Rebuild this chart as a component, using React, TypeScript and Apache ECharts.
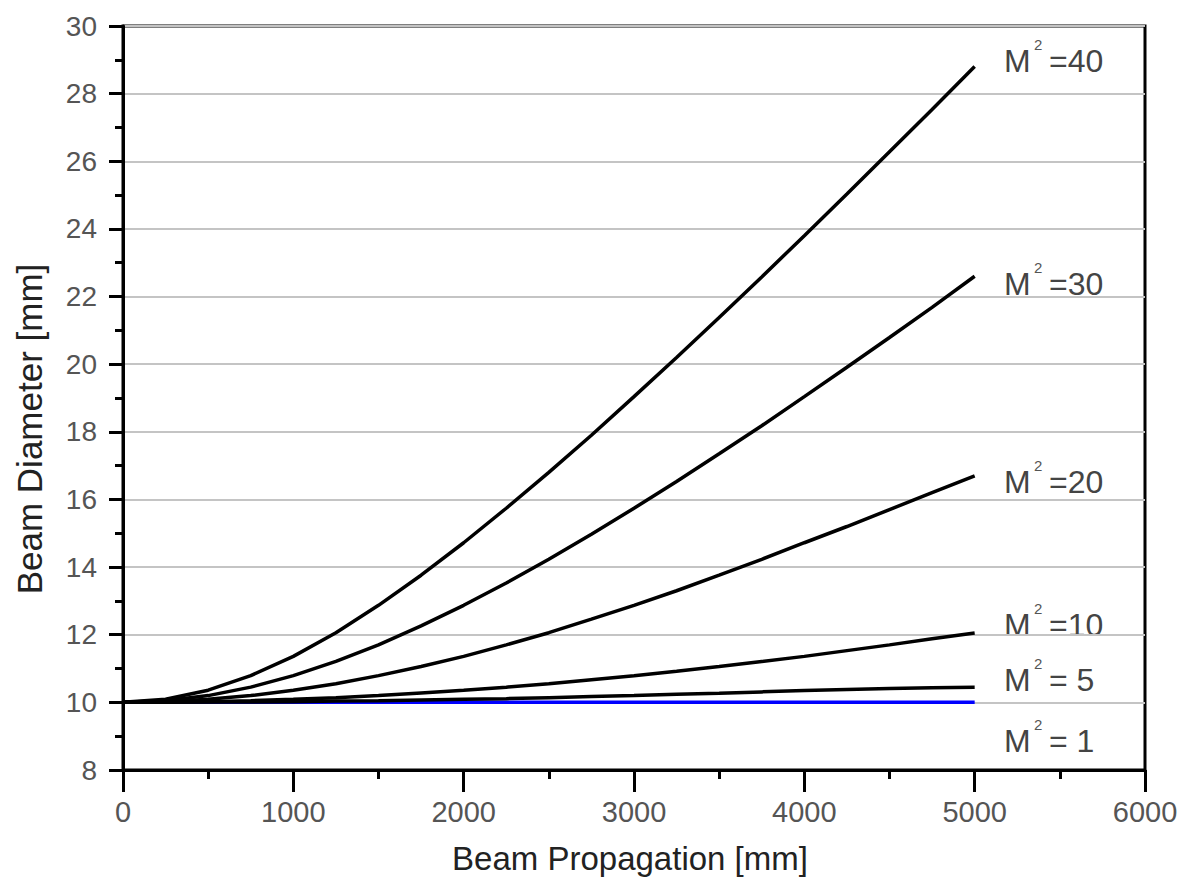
import React, { useEffect, useRef } from "react";
import * as echarts from "echarts";

// Beam propagation distance [mm]
const zValues = [0, 250, 500, 750, 1000, 1250, 1500, 1750, 2000, 2250, 2500, 2750, 3000, 3250, 3500, 3750, 4000, 4250, 4500, 4750, 5000];

// Beam diameter [mm] for each M² value
const m2_1 = [10, 10, 10, 10, 10, 10, 10, 10, 10, 10, 10, 10, 10, 10, 10, 10, 10, 10, 10, 10, 10];
const m2_5 = [10, 10.0, 10.01, 10.01, 10.02, 10.04, 10.05, 10.07, 10.09, 10.11, 10.14, 10.17, 10.2, 10.24, 10.27, 10.31, 10.35, 10.38, 10.41, 10.43, 10.45];
const m2_10 = [10, 10.01, 10.02, 10.05, 10.09, 10.14, 10.2, 10.28, 10.36, 10.45, 10.55, 10.67, 10.79, 10.92, 11.06, 11.21, 11.36, 11.53, 11.7, 11.88, 12.05];
const m2_20 = [10, 10.02, 10.09, 10.2, 10.36, 10.55, 10.79, 11.06, 11.36, 11.7, 12.06, 12.46, 12.87, 13.3, 13.76, 14.23, 14.72, 15.2, 15.7, 16.2, 16.7];
const m2_30 = [10, 10.05, 10.2, 10.45, 10.79, 11.21, 11.7, 12.26, 12.87, 13.53, 14.23, 14.97, 15.74, 16.53, 17.35, 18.18, 19.04, 19.91, 20.79, 21.68, 22.6];
const m2_40 = [10, 10.09, 10.36, 10.79, 11.36, 12.06, 12.87, 13.76, 14.72, 15.74, 16.8, 17.9, 19.04, 20.2, 21.38, 22.58, 23.8, 25.03, 26.28, 27.53, 28.8];

const curveLabels = ["=40", "=30", "=20", "=10", "= 5", "= 1"];
const labelCenters = [61, 284, 482, 625, 680, 741]; // layout (pixels)

const xTitle = "Beam Propagation [mm]";
const yTitle = "Beam Diameter [mm]";

const FONT = "'Liberation Sans', Arial, sans-serif";

function toData(vals: number[]) {
  return zValues.map((z, i) => [z, vals[i]]);
}

export default function App() {
  const ref = useRef<HTMLDivElement>(null);
  useEffect(() => {
    if (!ref.current) return;
    const chart = echarts.init(ref.current, null, { renderer: "svg" });

    const lineSeries = (name: string, vals: number[], color: string) => ({
      name,
      type: "line",
      data: toData(vals),
      showSymbol: false,
      symbol: "none",
      lineStyle: { color, width: 3.5 },
      itemStyle: { color },
      z: 3,
    });

    const graphics: any[] = [];
    curveLabels.forEach((t, i) => {
      const cy = labelCenters[i];
      graphics.push({
        type: "text",
        x: 1004,
        y: cy,
        style: { text: "M", font: `32px ${FONT}`, fill: "#444", verticalAlign: "middle", align: "left" },
      });
      graphics.push({
        type: "text",
        x: 1034,
        y: cy - 17,
        style: { text: "2", font: `15px ${FONT}`, fill: "#555", verticalAlign: "middle", align: "left" },
      });
      graphics.push({
        type: "text",
        x: 1049,
        y: cy,
        style: { text: t, font: `32px ${FONT}`, fill: "#444", verticalAlign: "middle", align: "left" },
      });
    });
    graphics.push({
      type: "text",
      x: 630,
      y: 858,
      style: { text: xTitle, font: `33px ${FONT}`, fill: "#222", align: "center", verticalAlign: "middle" },
    });
    graphics.push({
      type: "text",
      x: 29,
      y: 429,
      rotation: Math.PI / 2,
      style: { text: yTitle, font: `35px ${FONT}`, fill: "#222", align: "center", verticalAlign: "middle" },
    });

    chart.setOption({
      animation: false,
      backgroundColor: "#ffffff",
      grid: {
        left: 123,
        right: 45,
        top: 26,
        bottom: 109,
        show: true,
        borderColor: "#000",
        borderWidth: 3,
        containLabel: false,
        outerBoundsMode: "none",
      },
      xAxis: {
        type: "value",
        min: 0,
        max: 6000,
        interval: 1000,
        axisLine: { show: true, lineStyle: { color: "#000", width: 3 } },
        axisTick: { show: true, inside: false, length: 22, lineStyle: { color: "#000", width: 3 } },
        minorTick: { show: true, splitNumber: 2, length: 9, lineStyle: { color: "#000", width: 3 } },
        splitLine: { show: false },
        axisLabel: {
          color: "#555",
          fontSize: 29,
          fontFamily: FONT,
          margin: 27,
          formatter: (v: number) => String(v),
        },
      },
      yAxis: {
        type: "value",
        min: 8,
        max: 30,
        interval: 2,
        axisLine: { show: true, lineStyle: { color: "#000", width: 3 } },
        axisTick: { show: true, inside: false, length: 14, lineStyle: { color: "#000", width: 3 } },
        minorTick: { show: true, splitNumber: 2, length: 8, lineStyle: { color: "#000", width: 3 } },
        splitLine: { show: true, lineStyle: { color: "#c4c4c4", width: 2 } },
        axisLabel: { color: "#555", fontSize: 28, fontFamily: FONT, margin: 26 },
      },
      series: [
        lineSeries("M²=1", m2_1, "#0000ff"),
        lineSeries("M²=5", m2_5, "#000000"),
        lineSeries("M²=10", m2_10, "#000000"),
        lineSeries("M²=20", m2_20, "#000000"),
        lineSeries("M²=30", m2_30, "#000000"),
        lineSeries("M²=40", m2_40, "#000000"),
      ],
      graphic: graphics,
    });
    return () => chart.dispose();
  }, []);
  return (
    <div
      ref={ref}
      style={{ position: "fixed", left: 0, top: 0, width: 1190, height: 879, background: "#fff" }}
    />
  );
}
